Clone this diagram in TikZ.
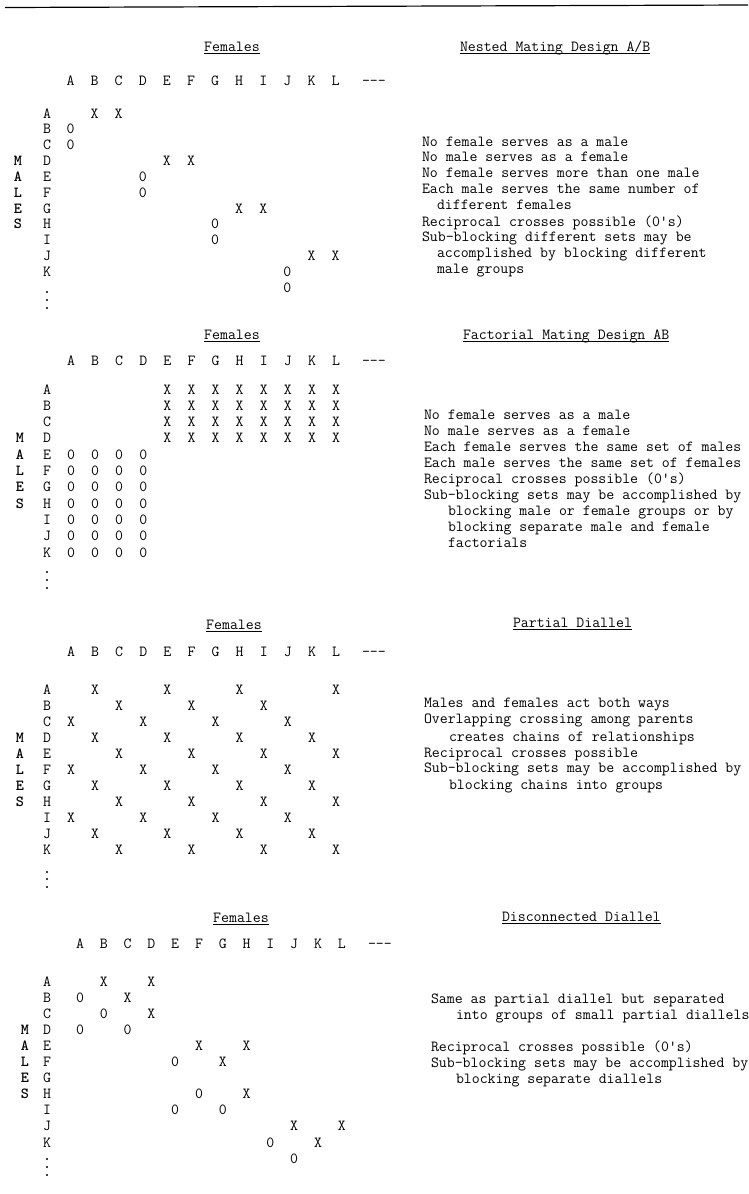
\documentclass[tikz,border=0pt]{standalone}
\usepackage{fontspec}
\begin{document}
\begin{tikzpicture}[x=1pt,y=-1pt,
  every node/.style={inner sep=0pt,outer sep=0pt,font=\ttfamily\fontsize{15.4}{16}\selectfont},
  cell/.style={anchor=base},
  txt/.style={anchor=base west},
  mal/.style={anchor=base,font=\ttfamily\bfseries\fontsize{15.4}{16}\selectfont},
  uline/.style={line width=0.8pt},
  rule/.style={line width=1.2pt}]
\useasboundingbox (0,0) rectangle (748,1194);
\fill[white] (0,0) rectangle (748,1194);
\coordinate (rl) at (5,7.5);
\coordinate (rr) at (748,5);
\draw[rule] (rl) -- (rr);

% ---------------- Section 1: Nested
\node[cell] (s1f) at (232,51) {Females};
\draw[uline] ([yshift=-2.5pt]s1f.base west) -- ([yshift=-2.5pt]s1f.base east);
\foreach \c [count=\i] in {A,B,C,D,E,F,G,H,I,J,K,L}
  \node[cell] (s1h\i) at ({70.5+24.1*(\i-1)},85) {\c};
\node[txt] (s1hd) at (362,85) {-{}-{}-};
\foreach \c [count=\i] in {A,B,C,D,E,F,G,H,I,J,K}
  \node[cell] (s1r\i) at (47,{118+15.85*(\i-1)}) {\c};
\foreach \c [count=\i] in {M,A,L,E,S}
  \node[mal] (s1m\i) at (18,{118+15.85*(\i+2)}) {\c};
\foreach \cc/\rr/\t [count=\k] in {2/1/X,3/1/X,1/2/0,1/3/0,5/4/X,6/4/X,4/5/0,4/6/0,8/7/X,9/7/X,7/8/0,7/9/0,11/10/X,12/10/X,10/11/0,10/12/0}
  \node[cell] (s1e\k) at ({70.5+24.1*(\cc-1)},{118+15.85*(\rr-1)}) {\t};
\foreach \yy in {292,300,308} \fill (47,\yy) circle (1.1pt);
\node[txt] (s1t) at (460,51) {Nested Mating Design A/B};
\draw[uline] ([yshift=-2.5pt]s1t.base west) -- ([yshift=-2.5pt]s1t.base east);
\foreach \xx/\yy/\t [count=\k] in {
  422/146/No female serves as a male,
  422/161/No male serves as a female,
  422/177/No female serves more than one male,
  422/193/Each male serves the same number of,
  437/209/different females,
  422/226/Reciprocal crosses possible (0's),
  422/241/Sub-blocking different sets may be,
  437/257/accomplished by blocking different,
  437/273/male groups}
  \node[txt] (s1l\k) at (\xx,\yy) {\t};

% ---------------- Section 2: Factorial
\node[cell] (s2f) at (232,339) {Females};
\draw[uline] ([yshift=-2.5pt]s2f.base west) -- ([yshift=-2.5pt]s2f.base east);
\foreach \c [count=\i] in {A,B,C,D,E,F,G,H,I,J,K,L}
  \node[cell] (s2h\i) at ({71+24.1*(\i-1)},365) {\c};
\node[txt] (s2hd) at (362,365) {-{}-{}-};
\foreach \c [count=\i] in {A,B,C,D,E,F,G,H,I,J,K}
  \node[cell] (s2r\i) at (47,{394+16.3*(\i-1)}) {\c};
\foreach \c [count=\i] in {M,A,L,E,S}
  \node[mal] (s2m\i) at (20,{394+16.3*(\i+2)}) {\c};
\foreach \rr in {1,2,3,4}
  \foreach \cc in {5,...,12}
    \node[cell] (s2x\rr-\cc) at ({71+24.1*(\cc-1)},{394+16.3*(\rr-1)}) {X};
\foreach \rr in {5,...,11}
  \foreach \cc in {1,2,3,4}
    \node[cell] (s2o\rr-\cc) at ({71+24.1*(\cc-1)},{394+16.3*(\rr-1)}) {0};
\foreach \yy in {572,580,588} \fill (47,\yy) circle (1.1pt);
\node[txt] (s2t) at (463,339) {Factorial Mating Design AB};
\draw[uline] ([yshift=-2.5pt]s2t.base west) -- ([yshift=-2.5pt]s2t.base east);
\foreach \xx/\yy/\t [count=\k] in {
  424/419/No female serves as a male,
  424/435/No male serves as a female,
  424/451/Each female serves the same set of males,
  424/467/Each male serves the same set of females,
  424/483/Reciprocal crosses possible (0's),
  424/499/Sub-blocking sets may be accomplished by,
  448/515/blocking male or female groups or by,
  448/531/blocking separate male and female,
  448/547/factorials}
  \node[txt] (s2l\k) at (\xx,\yy) {\t};

% ---------------- Section 3: Partial diallel
\node[cell] (s3f) at (234,629) {Females};
\draw[uline] ([yshift=-2.5pt]s3f.base west) -- ([yshift=-2.5pt]s3f.base east);
\foreach \c [count=\i] in {A,B,C,D,E,F,G,H,I,J,K,L}
  \node[cell] (s3h\i) at ({71+24.1*(\i-1)},656) {\c};
\node[txt] (s3hd) at (362,656) {-{}-{}-};
\foreach \c [count=\i] in {A,B,C,D,E,F,G,H,I,J,K}
  \node[cell] (s3r\i) at (47,{694+16*(\i-1)}) {\c};
\foreach \c [count=\i] in {M,A,L,E,S}
  \node[mal] (s3m\i) at (20,{694+16*(\i+2)}) {\c};
\foreach \cc/\rr [count=\k] in {2/1,5/1,8/1,12/1, 3/2,6/2,9/2, 1/3,4/3,7/3,10/3,
  2/4,5/4,8/4,11/4, 3/5,6/5,9/5,12/5, 1/6,4/6,7/6,10/6, 2/7,5/7,8/7,11/7,
  3/8,6/8,9/8,12/8, 1/9,4/9,7/9,10/9, 2/10,5/10,8/10,11/10, 3/11,6/11,9/11,12/11}
  \node[cell] (s3e\k) at ({71+24.1*(\cc-1)},{694+16*(\rr-1)}) {X};
\foreach \yy in {872,879,887} \fill (47,\yy) circle (1.1pt);
\node[txt] (s3t) at (513,627) {Partial Diallel};
\draw[uline] ([yshift=-2.5pt]s3t.base west) -- ([yshift=-2.5pt]s3t.base east);
\foreach \xx/\yy/\t [count=\k] in {
  424/707/Males and females act both ways,
  424/723/Overlapping crossing among parents,
  449/741/creates chains of relationships,
  424/757/Reciprocal crosses possible,
  424/772/Sub-blocking sets may be accomplished by,
  449/789/blocking chains into groups}
  \node[txt] (s3l\k) at (\xx,\yy) {\t};

% ---------------- Section 4: Disconnected diallel
\node[cell] (s4f) at (241,922) {Females};
\draw[uline] ([yshift=-2.5pt]s4f.base west) -- ([yshift=-2.5pt]s4f.base east);
\foreach \c [count=\i] in {A,B,C,D,E,F,G,H,I,J,K,L}
  \node[cell] (s4h\i) at ({80+23.8*(\i-1)},948) {\c};
\node[txt] (s4hd) at (368,948) {-{}-{}-};
\foreach \c [count=\i] in {A,B,C,D,E,F,G,H,I,J,K}
  \node[cell] (s4r\i) at (47,{986+16.1*(\i-1)}) {\c};
\foreach \c [count=\i] in {M,A,L,E,S}
  \node[mal] (s4m\i) at (25,{986+16.1*(\i+2)}) {\c};
\foreach \cc/\rr/\t [count=\k] in {2/1/X,4/1/X,1/2/0,3/2/X,2/3/0,4/3/X,1/4/0,3/4/0,
  6/5/X,8/5/X,5/6/0,7/6/X,6/8/0,8/8/X,5/9/0,7/9/0,
  10/10/X,12/10/X,9/11/0,11/11/X,10/12/0}
  \node[cell] (s4e\k) at ({80+23.8*(\cc-1)},{986+16.1*(\rr-1)}) {\t};
\foreach \yy in {1159,1167,1175} \fill (47,\yy) circle (1.1pt);
\node[txt] (s4t) at (502,921) {Disconnected Diallel};
\draw[uline] ([yshift=-2.5pt]s4t.base west) -- ([yshift=-2.5pt]s4t.base east);
\foreach \xx/\yy/\t [count=\k] in {
  431/1003/Same as partial diallel but separated,
  456/1019/into groups of small partial diallels,
  431/1051/Reciprocal crosses possible (0's),
  431/1067/Sub-blocking sets may be accomplished by,
  456/1083/blocking separate diallels}
  \node[txt] (s4l\k) at (\xx,\yy) {\t};
\end{tikzpicture}
\end{document}
